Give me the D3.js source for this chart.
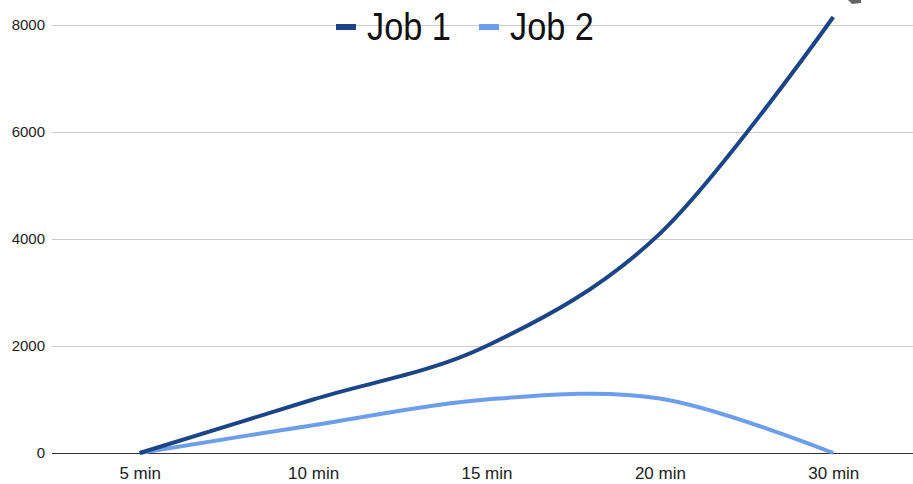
<!DOCTYPE html>
<html>
<head>
<meta charset="utf-8">
<script src="https://cdn.jsdelivr.net/npm/d3@7"></script>
<style>
  html, body { margin: 0; padding: 0; background: #fff; }
  svg { display: block; font-family: "Liberation Sans", Arial, sans-serif; }
</style>
</head>
<body>
<svg id="chart" width="913" height="484"></svg>
<script>
// Time buckets on the horizontal axis
const categories = ["5 min", "10 min", "15 min", "20 min", "30 min"];
// Series values per bucket
const job1 = [0, 1000, 2000, 4100, 8150];
const job2 = [0, 520, 1000, 1020, 0];
const seriesNames = ["Job 1", "Job 2"];
const seriesColors = ["#1c4587", "#6d9eeb"];
// Vertical axis ticks
const yTicks = [0, 2000, 4000, 6000, 8000];

const svg = d3.select("#chart");
const W = 913, H = 484;
const plotLeft = 52;

const x = d3.scalePoint().domain(categories).range([53, 920]).padding(0.5);
const y = d3.scaleLinear().domain([0, 8000]).range([453, 25]);

// Horizontal gridlines
svg.append("g")
  .selectAll("line")
  .data(yTicks.filter(d => d !== 0))
  .join("line")
  .attr("x1", plotLeft).attr("x2", W)
  .attr("y1", d => y(d) + 0.5).attr("y2", d => y(d) + 0.5)
  .attr("stroke", "#cccccc").attr("stroke-width", 1);

// Baseline
svg.append("line")
  .attr("x1", plotLeft).attr("x2", W)
  .attr("y1", y(0) + 0.5).attr("y2", y(0) + 0.5)
  .attr("stroke", "#333333").attr("stroke-width", 1.2);

// Y axis labels
const yAxis = d3.axisLeft(y).tickValues(yTicks).tickSize(0).tickPadding(0).tickFormat(d3.format("d"));
const yg = svg.append("g").attr("transform", `translate(45,0)`).call(yAxis);
yg.select(".domain").remove();
yg.selectAll("text").attr("font-size", 15).attr("fill", "#222").attr("font-family", "Liberation Sans, Arial, sans-serif");

// X axis labels
const xAxis = d3.axisBottom(x).tickSize(0).tickPadding(0);
const xg = svg.append("g").attr("transform", `translate(0,479)`).call(xAxis);
xg.select(".domain").remove();
xg.selectAll("text").attr("y", 0).attr("dy", 0)
  .attr("font-size", 17).attr("fill", "#222").attr("font-family", "Liberation Sans, Arial, sans-serif");

// Smoothed series lines
const line = d3.line()
  .x((d, i) => x(categories[i]))
  .y(d => y(d))
  .curve(d3.curveCardinal.tension(0));

[job2, job1].forEach((vals, k) => {
  const idx = k === 0 ? 1 : 0;
  svg.append("path")
    .datum(vals)
    .attr("d", line)
    .attr("fill", "none")
    .attr("stroke", seriesColors[idx])
    .attr("stroke-width", 4)
    .attr("stroke-linejoin", "round");
});

// Legend
const legendX = [336, 479];
seriesNames.forEach((name, i) => {
  const g = svg.append("g").attr("transform", `translate(${legendX[i]},0)`);
  g.append("rect").attr("x", 0).attr("y", 24).attr("width", 20).attr("height", 6)
    .attr("fill", seriesColors[i]);
  g.append("text")
    .attr("transform", "translate(31,40) scale(0.88,1)")
    .attr("font-size", 39)
    .attr("fill", "#111")
    .text(name);
});

// Small corner shape at the top right
svg.append("path")
  .attr("d", "M848,0 L861,0 L861,3 L852,4 Z")
  .attr("fill", "#666");
</script>
</body>
</html>
